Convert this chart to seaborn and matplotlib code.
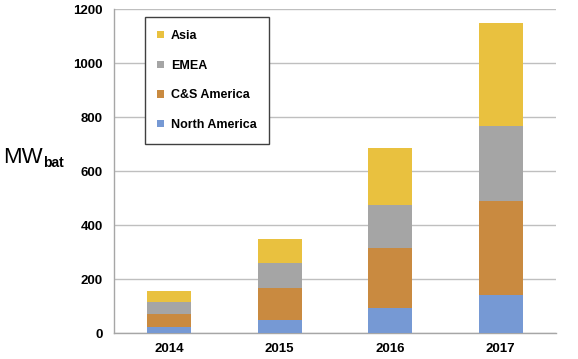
import matplotlib
matplotlib.use("Agg")
import matplotlib.pyplot as plt
import seaborn as sns
import numpy as np

years = ["2014", "2015", "2016", "2017"]
north_america = [23, 51, 94, 143]
cs_america = [50, 115, 221, 348]
emea = [43, 93, 162, 278]
asia = [39, 90, 211, 379]

series = [("North America", north_america, "#7699D4"),
          ("C&S America", cs_america, "#C98A40"),
          ("EMEA", emea, "#A5A5A5"),
          ("Asia", asia, "#E9C13F")]

sns.set_theme(style="white")
plt.rcParams["font.family"] = ["Liberation Sans", "DejaVu Sans"]
plt.rcParams["text.color"] = "black"
plt.rcParams["xtick.color"] = "black"
plt.rcParams["ytick.color"] = "black"

fig = plt.figure(figsize=(5.78, 3.59), dpi=100)
ax = fig.add_axes([0.197, 0.0716, 0.765, 0.9025])

# stacked: draw cumulative totals from the top layer down
cum = np.cumsum([s[1] for s in series], axis=0)
for i in reversed(range(len(series))):
    name, _, col = series[i]
    sns.barplot(x=years, y=cum[i], color=col, width=0.4, ax=ax,
                label=name, saturation=1, linewidth=0, zorder=3)

ax.set_ylim(0, 1200)
ax.set_yticks(range(0, 1201, 200))
ax.set_xlim(-0.5, 3.5)
ax.grid(axis="y", color="#BFBFBF", linewidth=1, zorder=0)
ax.set_axisbelow(True)
for side in ["top", "right"]:
    ax.spines[side].set_visible(False)
for side in ["left", "bottom"]:
    ax.spines[side].set_color("#A6A6A6")
    ax.spines[side].set_linewidth(1)

ax.tick_params(axis="y", length=0, pad=8, labelsize=9.5, labelcolor="black")
ax.tick_params(axis="x", length=0, pad=7, labelsize=9.5, labelcolor="black")
ax.set_xticks([-0.5, 0.5, 1.5, 2.5, 3.5], minor=True)
ax.tick_params(axis="x", which="minor", length=3, color="#A6A6A6", width=1)
for lab in ax.get_xticklabels() + ax.get_yticklabels():
    lab.set_fontweight("bold")
ax.set_xlabel("")
ax.set_ylabel("")

leg = ax.legend(loc="upper left", bbox_to_anchor=(0.07, 0.975), borderaxespad=0,
                prop={"weight": "bold", "size": 9},
                handlelength=0.5, handleheight=0.5, handletextpad=0.6,
                labelspacing=1.42, borderpad=1.0, fancybox=False,
                edgecolor="#404040", framealpha=1)
leg.get_frame().set_linewidth(1)

fig.text(3 / 578, 1 - 163 / 359, "MW", fontsize=16, va="baseline", ha="left")
fig.text(43 / 578, 1 - 167 / 359, "bat", fontsize=10, fontweight="bold",
         va="baseline", ha="left")

fig.savefig("out.png", dpi=100)
